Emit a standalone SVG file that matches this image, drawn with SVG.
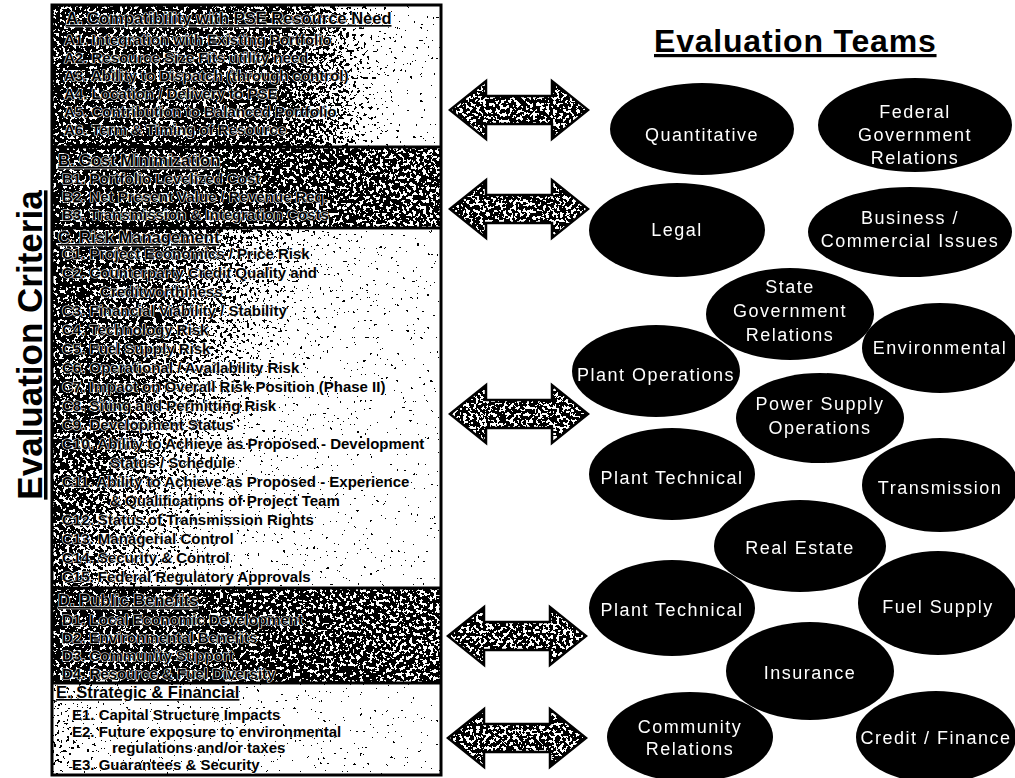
<svg xmlns="http://www.w3.org/2000/svg" width="1015" height="778" viewBox="0 0 1015 778">
<style>
.crit{font-family:"Liberation Sans",Arial,sans-serif;font-weight:bold;font-size:15px;fill:#000;stroke:#fff;stroke-width:1.2px;paint-order:stroke;stroke-linejoin:round}
.hdr{font-size:16.5px;text-decoration:underline}
.team ellipse{fill:#000}
.team text{font-family:"Liberation Sans",Arial,sans-serif;font-size:18px;fill:#fff;text-anchor:middle;letter-spacing:1.5px}
.title{font-family:"Liberation Sans",Arial,sans-serif;font-weight:bold;fill:#000;text-decoration:underline}
.sep{stroke:#000;stroke-width:3}
</style>
<defs>
<filter id="dither" x="0" y="0" width="1" height="1" color-interpolation-filters="sRGB">
<feTurbulence type="fractalNoise" baseFrequency="0.3" numOctaves="2" seed="7" result="n"/>
<feColorMatrix in="n" type="matrix" values="1 0 0 0 0  1 0 0 0 0  1 0 0 0 0  0 0 0 0 1" result="ng"/>
<feComposite in="SourceGraphic" in2="ng" operator="arithmetic" k1="0" k2="1" k3="2" k4="-1" result="sum"/>
<feComponentTransfer in="sum" result="d">
<feFuncR type="discrete" tableValues="0 1"/>
<feFuncG type="discrete" tableValues="0 1"/>
<feFuncB type="discrete" tableValues="0 1"/>
<feFuncA type="linear" slope="0" intercept="1"/>
</feComponentTransfer>
<feComposite in="d" in2="SourceAlpha" operator="in"/>
</filter>
<linearGradient id="gA" x1="0" y1="0" x2="1" y2="0">
<stop offset="0" stop-color="#555"/><stop offset="0.6" stop-color="#5c5c5c"/><stop offset="0.75" stop-color="#999"/><stop offset="0.85" stop-color="#eee"/><stop offset="1" stop-color="#fff"/>
</linearGradient>
<linearGradient id="gB" x1="0" y1="0" x2="1" y2="0">
<stop offset="0" stop-color="#505050"/><stop offset="0.6" stop-color="#585858"/><stop offset="1" stop-color="#6a6a6a"/>
</linearGradient>
<linearGradient id="gC" x1="0" y1="0" x2="1" y2="0.35">
<stop offset="0" stop-color="#555"/><stop offset="0.3" stop-color="#606060"/><stop offset="0.5" stop-color="#aaa"/><stop offset="0.65" stop-color="#f0f0f0"/><stop offset="1" stop-color="#fff"/>
</linearGradient>
<linearGradient id="gE" x1="0" y1="0" x2="1" y2="0">
<stop offset="0" stop-color="#bbb"/><stop offset="0.15" stop-color="#f4f4f4"/><stop offset="1" stop-color="#fff"/>
</linearGradient>
<path id="arrow" d="M-69,0 L-33,-29 L-33,-14 L33,-14 L33,-29 L69,0 L33,29 L33,14 L-33,14 L-33,29 Z"/>
</defs>
<rect width="1015" height="778" fill="#fff"/>

<g id="axis-label">
<text class="title" font-size="35" text-anchor="middle" transform="translate(42,345) rotate(-90)">Evaluation Criteria</text>
</g>
<g id="teams-title">
<text class="title" x="654" y="52" font-size="32" letter-spacing="0.8">Evaluation Teams</text>
</g>

<g id="criteria-panel">
<g filter="url(#dither)">
<rect x="52" y="5" width="389" height="142" fill="url(#gA)"/>
<rect x="52" y="147" width="389" height="81" fill="url(#gB)"/>
<rect x="52" y="228" width="389" height="360" fill="url(#gC)"/>
<rect x="52" y="588" width="389" height="95" fill="url(#gB)"/>
<rect x="52" y="683" width="389" height="92" fill="url(#gE)"/>
</g>
<rect x="52" y="5" width="389" height="770" fill="none" stroke="#000" stroke-width="3"/>
<line class="sep" x1="52" y1="147" x2="441" y2="147"/>
<line class="sep" x1="52" y1="228" x2="441" y2="228"/>
<line class="sep" x1="52" y1="588" x2="441" y2="588"/>
<line class="sep" x1="52" y1="683" x2="441" y2="683"/>

<g id="criteria-a" class="crit">
<text class="hdr" x="66" y="24">A. Compatibility with PSE Resource Need</text>
<text x="64" y="45">A1. Integration with Existing Portfolio</text>
<text x="64" y="63">A2. Resource Size Fits utility need</text>
<text x="64" y="81">A3. Ability to Dispatch (through control)</text>
<text x="64" y="99">A4. Location / Delivery to PSE</text>
<text x="64" y="117">A5. Contribution to Balanced Portfolio</text>
<text x="64" y="135">A6. Term &amp; Timing of Resource</text>
</g>
<g id="criteria-b" class="crit">
<text class="hdr" x="58" y="166">B. Cost Minimization</text>
<text x="62" y="184">B1. Portfolio Levelized Cost</text>
<text x="62" y="202">B2. Net Present Value / Revenue Req.</text>
<text x="62" y="220">B3. Transmission &amp; Integration Costs</text>
</g>
<g id="criteria-c" class="crit">
<text class="hdr" x="58" y="243">C. Risk Management</text>
<text x="62" y="259">C1. Project Economics / Price Risk</text>
<text x="62" y="278">C2. Counterparty Credit Quality and</text>
<text x="100" y="297">Creditworthiness</text>
<text x="62" y="316">C3. Financial Viability / Stability</text>
<text x="62" y="335">C4. Technology Risk</text>
<text x="62" y="354">C5. Fuel Supply Risk</text>
<text x="62" y="373">C6. Operational / Availability Risk</text>
<text x="62" y="392">C7. Impact on Overall Risk Position (Phase II)</text>
<text x="62" y="411">C8. Siting and Permitting Risk</text>
<text x="62" y="430">C9. Development Status</text>
<text x="62" y="449">C10. Ability to Achieve as Proposed - Development</text>
<text x="110" y="468">Status / Schedule</text>
<text x="62" y="487">C11. Ability to Achieve as Proposed - Experience</text>
<text x="110" y="506">&amp; Qualifications of Project Team</text>
<text x="62" y="525">C12. Status of Transmission Rights</text>
<text x="62" y="544">C13. Managerial Control</text>
<text x="62" y="563">C14. Security &amp; Control</text>
<text x="62" y="582">C15. Federal Regulatory Approvals</text>
</g>
<g id="criteria-d" class="crit">
<text class="hdr" x="58" y="606">D. Public Benefits</text>
<text x="62" y="625">D1. Local Economic Development</text>
<text x="62" y="643">D2. Environmental Benefits</text>
<text x="62" y="661">D3. Community Support</text>
<text x="62" y="679">D4. Resource &amp; Fuel Diversity</text>
</g>
<g id="criteria-e" class="crit">
<text class="hdr" x="56" y="698">E. Strategic &amp; Financial</text>
<text x="72" y="720">E1. Capital Structure Impacts</text>
<text x="72" y="737">E2. Future exposure to environmental</text>
<text x="112" y="753">regulations and/or taxes</text>
<text x="72" y="770">E3. Guarantees &amp; Security</text>
</g>
</g>

<g id="connectors">
<g filter="url(#dither)" fill="#6a6a6a">
<use href="#arrow" x="519" y="110"/>
<use href="#arrow" x="519" y="209"/>
<use href="#arrow" x="519" y="414"/>
<use href="#arrow" x="517" y="636"/>
<use href="#arrow" x="517" y="738"/>
</g>
<g fill="none" stroke="#000" stroke-width="2.5" stroke-linejoin="miter">
<use href="#arrow" x="519" y="110"/>
<use href="#arrow" x="519" y="209"/>
<use href="#arrow" x="519" y="414"/>
<use href="#arrow" x="517" y="636"/>
<use href="#arrow" x="517" y="738"/>
</g>
</g>

<g id="team-quantitative" class="team"><ellipse cx="702" cy="129" rx="92" ry="46"/><text x="702" y="141">Quantitative</text></g>
<g id="team-federal" class="team"><ellipse cx="915" cy="125" rx="97" ry="47"/><text x="915" y="118">Federal</text><text x="915" y="141">Government</text><text x="915" y="164">Relations</text></g>
<g id="team-legal" class="team"><ellipse cx="677" cy="230" rx="88" ry="47"/><text x="677" y="236">Legal</text></g>
<g id="team-business" class="team"><ellipse cx="910" cy="232" rx="102" ry="45"/><text x="910" y="224">Business /</text><text x="910" y="247">Commercial Issues</text></g>
<g id="team-state" class="team"><ellipse cx="790" cy="314" rx="84" ry="46"/><text x="790" y="293">State</text><text x="790" y="317">Government</text><text x="790" y="341">Relations</text></g>
<g id="team-environmental" class="team"><ellipse cx="940" cy="348" rx="78" ry="45"/><text x="940" y="354">Environmental</text></g>
<g id="team-plant-operations" class="team"><ellipse cx="656" cy="371" rx="84" ry="46"/><text x="656" y="381">Plant Operations</text></g>
<g id="team-power-supply" class="team"><ellipse cx="820" cy="418" rx="84" ry="45"/><text x="820" y="410">Power Supply</text><text x="820" y="434">Operations</text></g>
<g id="team-plant-technical-1" class="team"><ellipse cx="672" cy="474" rx="83" ry="46"/><text x="672" y="484">Plant Technical</text></g>
<g id="team-transmission" class="team"><ellipse cx="940" cy="485" rx="78" ry="47"/><text x="940" y="494">Transmission</text></g>
<g id="team-real-estate" class="team"><ellipse cx="800" cy="546" rx="86" ry="46"/><text x="800" y="554">Real Estate</text></g>
<g id="team-plant-technical-2" class="team"><ellipse cx="672" cy="608" rx="83" ry="48"/><text x="672" y="616">Plant Technical</text></g>
<g id="team-fuel-supply" class="team"><ellipse cx="938" cy="603" rx="80" ry="52"/><text x="938" y="613">Fuel Supply</text></g>
<g id="team-insurance" class="team"><ellipse cx="810" cy="671" rx="84" ry="49"/><text x="810" y="679">Insurance</text></g>
<g id="team-community" class="team"><ellipse cx="690" cy="737" rx="83" ry="45"/><text x="690" y="733">Community</text><text x="690" y="755">Relations</text></g>
<g id="team-credit" class="team"><ellipse cx="936" cy="737" rx="80" ry="46"/><text x="936" y="744">Credit / Finance</text></g>
</svg>
